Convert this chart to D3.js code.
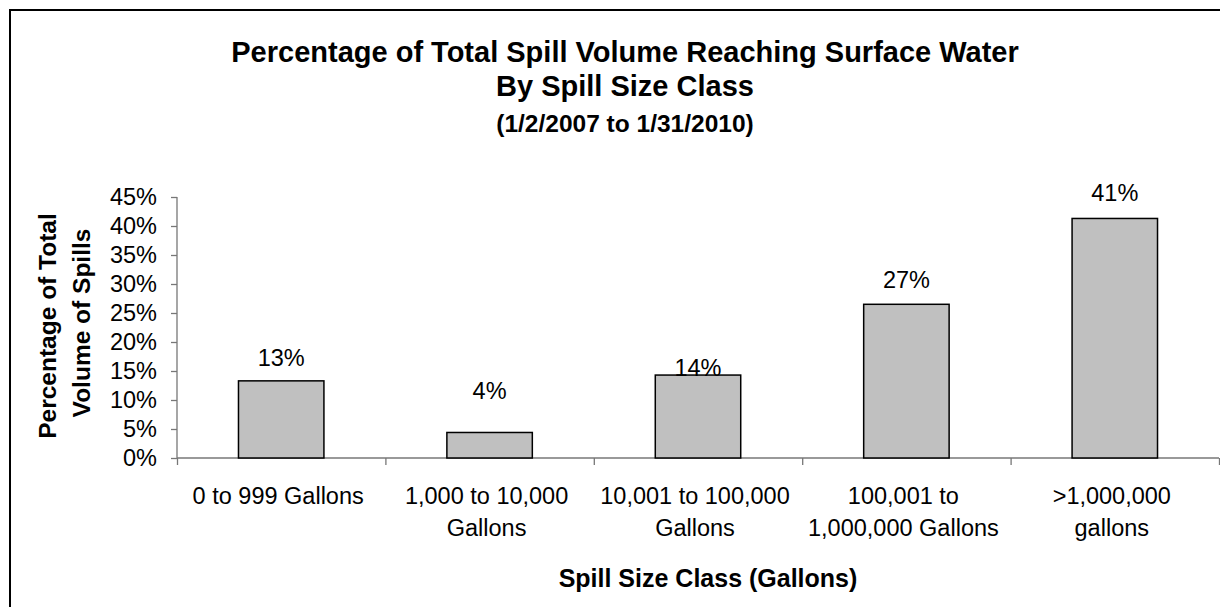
<!DOCTYPE html>
<meta charset="utf-8">
<script src="https://d3js.org/d3.v7.min.js"></script>
<style>
    body { margin: 0; background: #fff; }
    svg text { font-family: "Liberation Sans", Arial, sans-serif; fill: #000; }
</style>
<div id="chart"></div>
<script>

    // data
    var categories = [
        ["0 to 999 Gallons"],
        ["1,000 to 10,000", "Gallons"],
        ["10,001 to 100,000", "Gallons"],
        ["100,001 to", "1,000,000 Gallons"],
        [">1,000,000", "gallons"]
    ];
    var values = [13.3, 4.4, 14.3, 26.5, 41.3];
    var valueLabels = ["13%", "4%", "14%", "27%", "41%"];
    // where the spreadsheet placed each data label (in % units)
    var labelAt = [17.2, 11.6, 15.6, 30.8, 45.7];
    var yTicks = [0, 5, 10, 15, 20, 25, 30, 35, 40, 45];

    var width = 1220, height = 607;
    var plot = {left: 177, right: 1219, top: 197, bottom: 458};

    var svg = d3.select("#chart").append("svg")
        .attr("width", width)
        .attr("height", height);

    // outer frame
    svg.append("rect")
        .attr("x", 10).attr("y", 10)
        .attr("width", width + 10).attr("height", height + 10)
        .attr("fill", "none")
        .attr("stroke", "#000")
        .attr("stroke-width", 2);

    // titles
    var titles = [
        {t: "Percentage of Total Spill Volume Reaching Surface Water", y: 62, s: 29},
        {t: "By Spill Size Class", y: 96, s: 29},
        {t: "(1/2/2007 to 1/31/2010)", y: 132, s: 24.5}
    ];
    svg.selectAll(".title").data(titles).enter().append("text")
        .attr("class", "title")
        .attr("x", 625)
        .attr("y", function(d) { return d.y; })
        .attr("text-anchor", "middle")
        .style("font-weight", "bold")
        .style("font-size", function(d) { return d.s + "px"; })
        .text(function(d) { return d.t; });

    var x = d3.scaleBand()
        .domain(d3.range(categories.length))
        .range([plot.left, plot.right])
        .paddingInner(0.59)
        .paddingOuter(0.295);

    var y = d3.scaleLinear()
        .domain([0, 45])
        .range([plot.bottom, plot.top]);

    // Y axis
    var yAxis = svg.append("g")
        .attr("transform", "translate(" + plot.left + ",0)")
        .call(d3.axisLeft(y).tickValues(yTicks).tickSize(6).tickPadding(14)
            .tickFormat(function(d) { return d + "%"; }));
    yAxis.selectAll("text").style("font-size", "23.5px");

    // X axis (ticks between categories)
    var xEdge = d3.scaleLinear().domain([0, categories.length]).range([plot.left, plot.right]);
    var xAxis = svg.append("g")
        .attr("transform", "translate(0," + plot.bottom + ")")
        .call(d3.axisBottom(xEdge).tickValues(d3.range(categories.length + 1)).tickSize(7).tickFormat(""));

    svg.selectAll(".domain, .tick line")
        .attr("stroke", "#777")
        .attr("stroke-width", 1.3);
    yAxis.select(".domain").attr("d", "M0," + plot.top + "V" + plot.bottom);
    xAxis.select(".domain").attr("d", "M" + plot.left + ",0H" + plot.right);

    // category labels
    var catG = svg.selectAll(".cat").data(categories).enter().append("text")
        .attr("class", "cat")
        .attr("text-anchor", "middle")
        .style("font-size", "23.5px");
    catG.selectAll("tspan").data(function(d, i) { return d.map(function(s) { return {s: s, i: i}; }); })
        .enter().append("tspan")
        .attr("x", function(d) { return x(d.i) + x.bandwidth() / 2 - 3; })
        .attr("y", function(d, j) { return 504 + j * 32; })
        .text(function(d) { return d.s; });

    // bars
    svg.selectAll(".bar").data(values).enter().append("rect")
        .attr("class", "bar")
        .attr("x", function(d, i) { return x(i); })
        .attr("y", function(d) { return y(d); })
        .attr("width", x.bandwidth())
        .attr("height", function(d) { return y(0) - y(d); })
        .attr("fill", "#c0c0c0")
        .attr("stroke", "#000")
        .attr("stroke-width", 1.5);

    // data labels
    svg.selectAll(".lbl").data(valueLabels).enter().append("text")
        .attr("class", "lbl")
        .attr("x", function(d, i) { return x(i) + x.bandwidth() / 2; })
        .attr("y", function(d, i) { return y(labelAt[i]); })
        .attr("dy", "0.35em")
        .attr("text-anchor", "middle")
        .style("font-size", "23.5px")
        .text(function(d) { return d; });

    // axis titles
    svg.append("text")
        .attr("transform", "translate(47,326) rotate(-90)")
        .attr("text-anchor", "middle")
        .attr("dy", "0.35em")
        .style("font-weight", "bold")
        .style("font-size", "24.5px")
        .text("Percentage of Total");
    svg.append("text")
        .attr("transform", "translate(81,323) rotate(-90)")
        .attr("text-anchor", "middle")
        .attr("dy", "0.35em")
        .style("font-weight", "bold")
        .style("font-size", "24.5px")
        .text("Volume of Spills");

    svg.append("text")
        .attr("x", 708)
        .attr("y", 587)
        .attr("text-anchor", "middle")
        .style("font-weight", "bold")
        .style("font-size", "25px")
        .text("Spill Size Class (Gallons)");

</script>
